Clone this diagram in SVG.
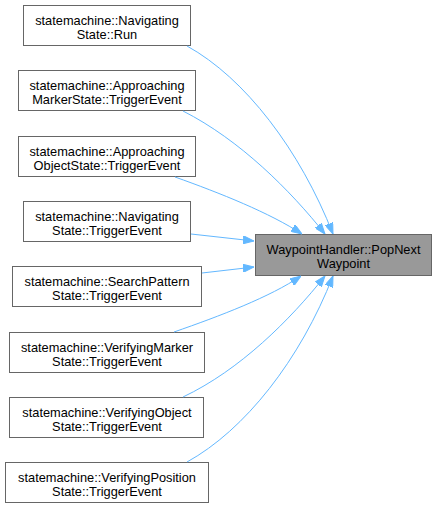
<svg xmlns="http://www.w3.org/2000/svg" width="436" height="509" viewBox="0 0 436 509">
<style>
.n rect{fill:#ffffff;stroke:#666666;stroke-width:1}
.t rect{fill:#999999;stroke:#666666;stroke-width:1}
text{font-family:"Liberation Sans",Arial,Helvetica,sans-serif;font-size:12.8px;fill:#000000;text-anchor:middle}
.e path{fill:none;stroke:#63b8ff;stroke-width:1;marker-end:url(#ah)}
</style>
<defs>
<marker id="ah" viewBox="0 0 11 8" refX="11" refY="4" markerWidth="11" markerHeight="8" markerUnits="userSpaceOnUse" orient="auto">
<path d="M0,0 L11,4 L0,8 z" fill="#63b8ff" stroke="#63b8ff"/>
</marker>
</defs>
<rect width="436" height="509" fill="#ffffff"/>
<g id="target" class="t">
<rect x="255.5" y="234.5" width="176" height="41"/>
<text x="343.5" y="253.5">WaypointHandler::PopNext</text>
<text x="343.5" y="267.5">Waypoint</text>
</g>
<g id="n1" class="n">
<rect x="23.5" y="5.5" width="167" height="40"/>
<text x="107" y="24.5">statemachine::Navigating</text>
<text x="107" y="38.5">State::Run</text>
</g>
<g id="n2" class="n">
<rect x="18.5" y="70.5" width="177" height="40"/>
<text x="107" y="89.5">statemachine::Approaching</text>
<text x="107" y="103.5">MarkerState::TriggerEvent</text>
</g>
<g id="n3" class="n">
<rect x="18.5" y="136.5" width="177" height="40"/>
<text x="107" y="155.5">statemachine::Approaching</text>
<text x="107" y="169.5">ObjectState::TriggerEvent</text>
</g>
<g id="n4" class="n">
<rect x="23.5" y="201.5" width="167" height="40"/>
<text x="107" y="220.5">statemachine::Navigating</text>
<text x="107" y="234.5">State::TriggerEvent</text>
</g>
<g id="n5" class="n">
<rect x="12.5" y="266.5" width="189" height="40"/>
<text x="107" y="285.5">statemachine::SearchPattern</text>
<text x="107" y="299.5">State::TriggerEvent</text>
</g>
<g id="n6" class="n">
<rect x="9.5" y="332.5" width="195" height="40"/>
<text x="107" y="351.5">statemachine::VerifyingMarker</text>
<text x="107" y="365.5">State::TriggerEvent</text>
</g>
<g id="n7" class="n">
<rect x="9.5" y="397.5" width="194" height="40"/>
<text x="107" y="416.5">statemachine::VerifyingObject</text>
<text x="107" y="430.5">State::TriggerEvent</text>
</g>
<g id="n8" class="n">
<rect x="5.5" y="462.5" width="203" height="40"/>
<text x="107" y="481.5">statemachine::VerifyingPosition</text>
<text x="107" y="495.5">State::TriggerEvent</text>
</g>
<g id="edges" class="e">
<path d="M187,46 C245,78 300,150 333,234"/>
<path d="M183,111 C240,140 290,190 325,234"/>
<path d="M175,177 C220,193 270,213 302,234"/>
<path d="M191,234 L254,241"/>
<path d="M202,273 L254,267"/>
<path d="M174,332 C220,316 270,297 301,276"/>
<path d="M183,397 C240,370 290,320 325,276"/>
<path d="M187,462 C245,430 300,360 333,276"/>
</g>
</svg>
